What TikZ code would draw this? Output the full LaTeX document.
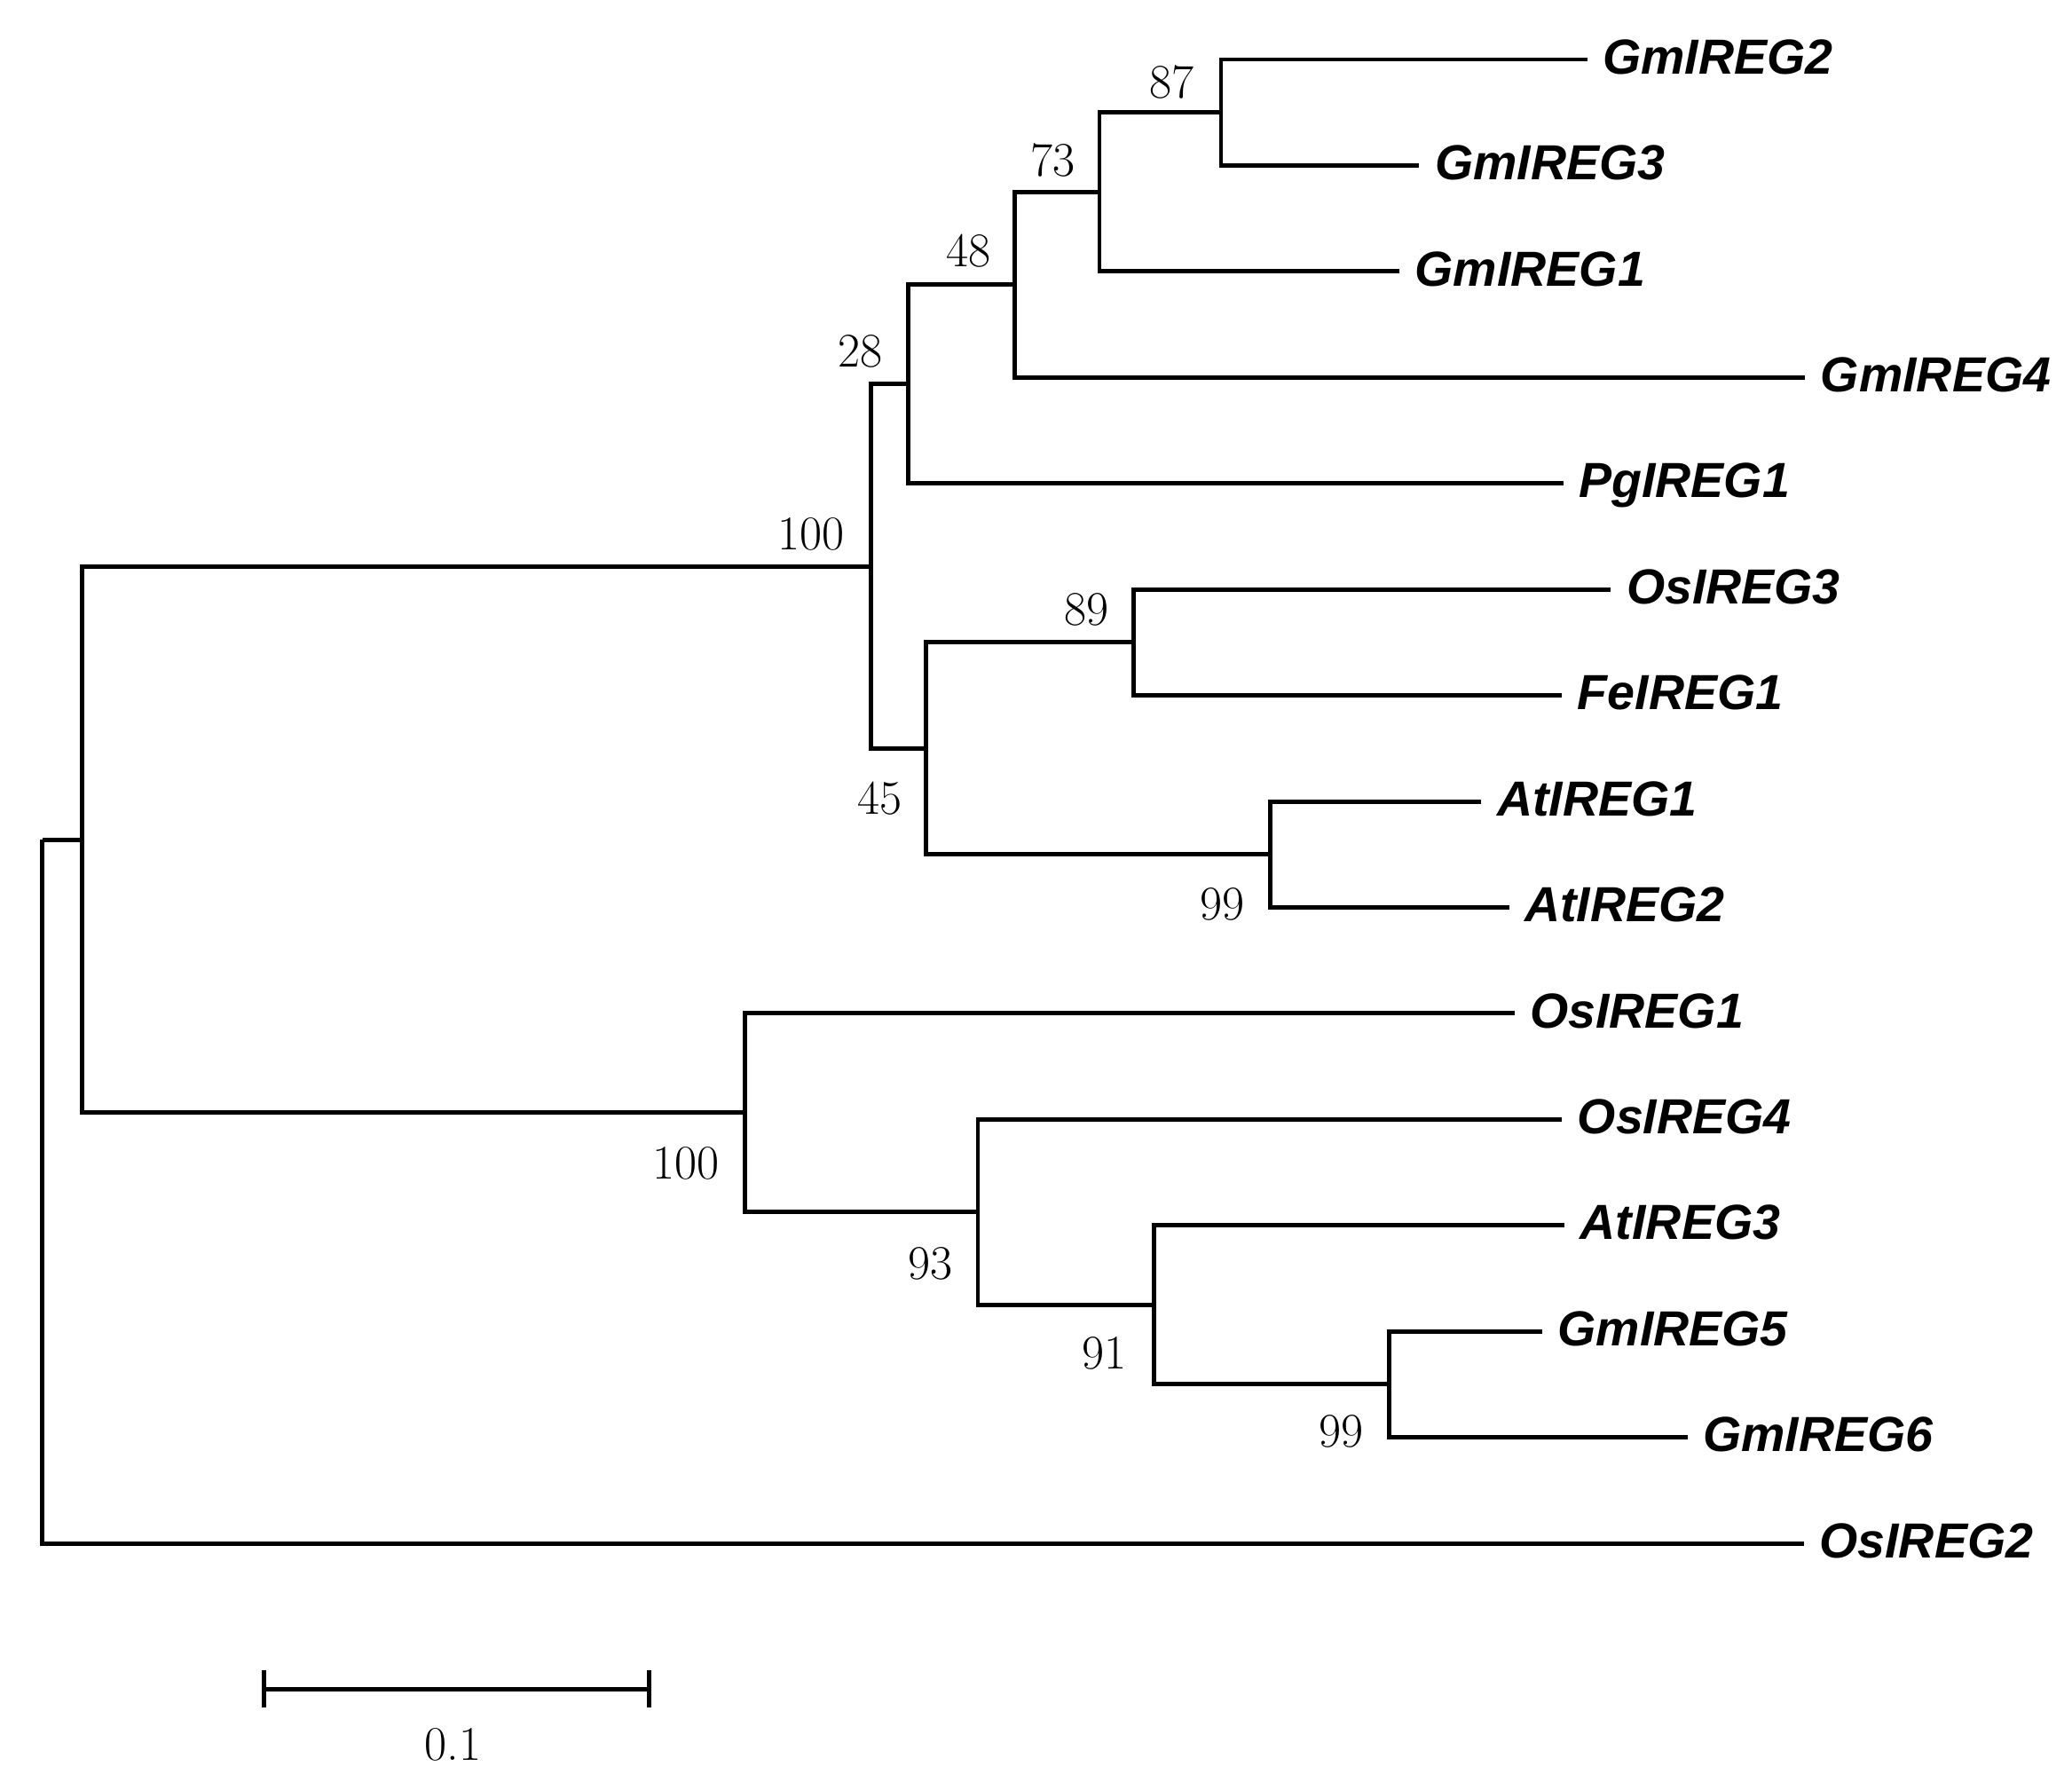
\documentclass[tikz,border=0pt]{standalone}
\usepackage{fontspec}
\newfontfamily\leaffont{Liberation Sans}
\usetikzlibrary{positioning}
\usetikzlibrary{arrows.meta}

\tikzset{
  branch/.style={line width=1.4pt},
  leaf/.style={anchor=west, inner xsep=0.17cm, inner ysep=0pt,
    text height=0.72em, text depth=0pt, yshift=-1pt,
    font=\leaffont\bfseries\itshape\fontsize{15.8}{18}\selectfont},
  boot/.style={inner sep=0pt, font=\fontsize{15.5}{18}\selectfont},
}

\begin{document}
\begin{tikzpicture}[x=0.014892cm, y=-0.014892cm]
    \useasboundingbox (0,0) rectangle (1568,1354);

    % Leaves
    \node[leaf] (GmIREG2) at (1201,45) {GmIREG2};
    \node[leaf] (GmIREG3) at (1074,125.2) {GmIREG3};
    \node[leaf] (GmIREG1) at (1059,205.4) {GmIREG1};
    \node[leaf] (GmIREG4) at (1366,285.6) {GmIREG4};
    \node[leaf] (PgIREG1) at (1183,365.8) {PgIREG1};
    \node[leaf] (OsIREG3) at (1219,446) {OsIREG3};
    \node[leaf] (FeIREG1) at (1182,526.2) {FeIREG1};
    \node[leaf] (AtIREG1) at (1121,606.4) {AtIREG1};
    \node[leaf] (AtIREG2) at (1142,686.6) {AtIREG2};
    \node[leaf] (OsIREG1) at (1146,766.8) {OsIREG1};
    \node[leaf] (OsIREG4) at (1182,847) {OsIREG4};
    \node[leaf] (AtIREG3) at (1184,927.2) {AtIREG3};
    \node[leaf] (GmIREG5) at (1167,1007.4) {GmIREG5};
    \node[leaf] (GmIREG6) at (1277,1087.6) {GmIREG6};
    \node[leaf] (OsIREG2) at (1365,1167.8) {OsIREG2};

    % Internal nodes
    \coordinate (n87) at (924,85.1);
    \coordinate (n73) at (832,145.3);
    \coordinate (n48) at (768,215.4);
    \coordinate (n28) at (687,290.6);
    \coordinate (n89) at (858,486.1);
    \coordinate (n99a) at (961,646.5);
    \coordinate (n45) at (701,566.3);
    \coordinate (n100a) at (659,428.5);
    \coordinate (n99b) at (1051,1047.5);
    \coordinate (n91) at (873,987.4);
    \coordinate (n93) at (740,917.2);
    \coordinate (n100b) at (564,842);
    \coordinate (nIn) at (62,635.3);
    \coordinate (root) at (32,635.3);

    % Bootstrap values
    \node[boot] (b87) at (887,62) {87};
    \node[boot] (b73) at (797,121) {73};
    \node[boot] (b48) at (733,190) {48};
    \node[boot] (b28) at (651,266) {28};
    \node[boot] (b100a) at (614,404) {100};
    \node[boot] (b89) at (822,461) {89};
    \node[boot] (b45) at (666,604) {45};
    \node[boot] (b99a) at (925,684) {99};
    \node[boot] (b100b) at (519,880) {100};
    \node[boot] (b93) at (704,956) {93};
    \node[boot] (b91) at (836,1024) {91};
    \node[boot] (b99b) at (1015,1083) {99};

    % Branches
    \draw[branch] (n87) |- ([yshift=1pt]GmIREG2.west);
    \draw[branch] (n87) |- ([yshift=1pt]GmIREG3.west);
    \draw[branch] (n73) |- (n87);
    \draw[branch] (n73) |- ([yshift=1pt]GmIREG1.west);
    \draw[branch] (n48) |- (n73);
    \draw[branch] (n48) |- ([yshift=1pt]GmIREG4.west);
    \draw[branch] (n28) |- (n48);
    \draw[branch] (n28) |- ([yshift=1pt]PgIREG1.west);

    \draw[branch] (n89) |- ([yshift=1pt]OsIREG3.west);
    \draw[branch] (n89) |- ([yshift=1pt]FeIREG1.west);
    \draw[branch] (n99a) |- ([yshift=1pt]AtIREG1.west);
    \draw[branch] (n99a) |- ([yshift=1pt]AtIREG2.west);
    \draw[branch] (n45) |- (n89);
    \draw[branch] (n45) |- (n99a);
    \draw[branch] (n100a) |- (n28);
    \draw[branch] (n100a) |- (n45);

    \draw[branch] (n99b) |- ([yshift=1pt]GmIREG5.west);
    \draw[branch] (n99b) |- ([yshift=1pt]GmIREG6.west);
    \draw[branch] (n91) |- ([yshift=1pt]AtIREG3.west);
    \draw[branch] (n91) |- (n99b);
    \draw[branch] (n93) |- ([yshift=1pt]OsIREG4.west);
    \draw[branch] (n93) |- (n91);
    \draw[branch] (n100b) |- ([yshift=1pt]OsIREG1.west);
    \draw[branch] (n100b) |- (n93);

    \draw[branch] (nIn) |- (n100a);
    \draw[branch] (nIn) |- (n100b);
    \draw[branch] (root) -- (nIn);
    \draw[branch] (root) |- ([yshift=1pt]OsIREG2.west);

    % Scale bar
    \coordinate (sbL) at (198,1278);
    \coordinate (sbR) at (493,1278);
    \draw[branch, {Bar[width=0.42cm]}-{Bar[width=0.42cm]}] (sbL) -- (sbR);
    \node[boot] (sbText) at (343,1320) {0.1};
\end{tikzpicture}
\end{document}
